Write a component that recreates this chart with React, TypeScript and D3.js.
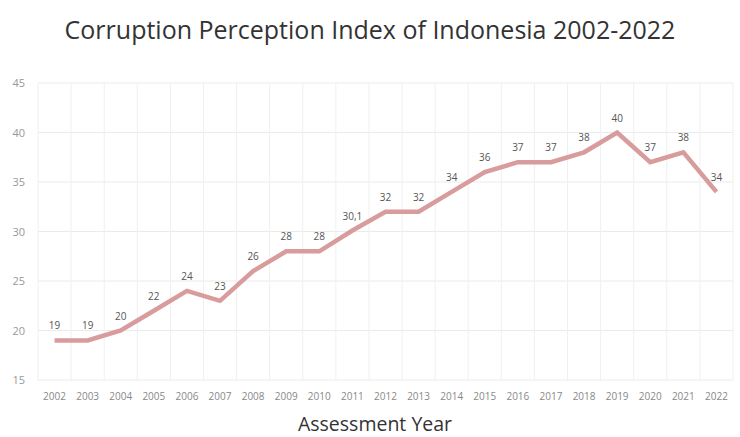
import React from "react";
import * as d3 from "d3";

const years = ["2002","2003","2004","2005","2006","2007","2008","2009","2010","2011","2012","2013","2014","2015","2016","2017","2018","2019","2020","2021","2022"];
const values = [19,19,20,22,24,23,26,28,28,30.1,32,32,34,36,37,37,38,40,37,38,34];
const valueLabels = ["19","19","20","22","24","23","26","28","28","30,1","32","32","34","36","37","37","38","40","37","38","34"];
const yTicks = [15,20,25,30,35,40,45];

const W = 740, H = 437;
const left = 38, right = 733, top = 83, bottom = 380;

export default function App() {
  const x = d3.scaleBand<string>().domain(years).range([left, right]).padding(0);
  const y = d3.scaleLinear().domain([15, 45]).range([bottom, top]);
  const cx = (d: string) => (x(d) as number) + x.bandwidth() / 2;
  const line = d3.line<number>().x((_, i) => cx(years[i])).y((v) => y(v));
  const font = "'Open Sans', 'Noto Sans', sans-serif";
  const bounds = [...years.map((d) => x(d) as number), right];
  return (
    <svg width={W} height={H} style={{ position: "absolute", left: 0, top: 0, background: "#fff" }}>
      <rect x={0} y={0} width={W} height={H} fill="#fff" />
      <text x={370} y={39} textAnchor="middle" fontFamily={font} fontSize={25} fill="#333">
        Corruption Perception Index of Indonesia 2002-2022
      </text>
      {yTicks.map((t) => (
        <g key={t}>
          <line x1={left} x2={right} y1={y(t)} y2={y(t)} stroke="#ebebeb" strokeWidth={1} />
          <text x={25} y={y(t) + 4} textAnchor="end" fontFamily={font} fontSize={11} fill="#999">{t}</text>
        </g>
      ))}
      {bounds.map((b, i) => (
        <line key={i} x1={b} x2={b} y1={top} y2={bottom} stroke="#f0f0f0" strokeWidth={1} />
      ))}
      <path d={line(values) || ""} fill="none" stroke="#d99c9d" strokeWidth={4.5} strokeLinejoin="miter" />
      {values.map((v, i) => (
        <text key={i} x={cx(years[i])} y={y(v) - 11} textAnchor="middle" fontFamily={font} fontSize={10} fill="#555">
          {valueLabels[i]}
        </text>
      ))}
      {years.map((d) => (
        <text key={d} x={cx(d)} y={400} textAnchor="middle" fontFamily={font} fontSize={10} fill="#888">{d}</text>
      ))}
      <text x={375} y={431} textAnchor="middle" fontFamily={font} fontSize={19.5} fill="#333">Assessment Year</text>
    </svg>
  );
}
